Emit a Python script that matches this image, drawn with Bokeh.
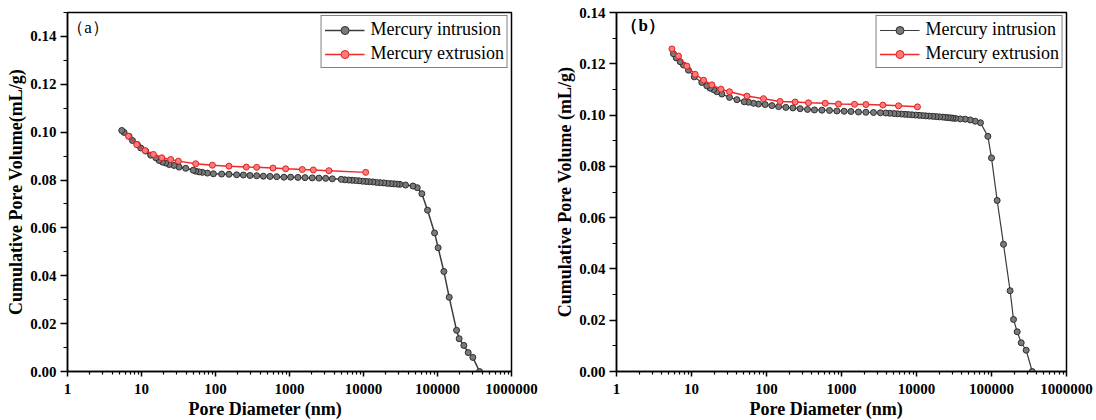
from bokeh.plotting import figure
from bokeh.layouts import row
from bokeh.models import Range1d, FixedTicker, NumeralTickFormatter, Label, Title
from bokeh.embed import file_html
from bokeh.resources import INLINE

# ---------------- data ----------------
x_ticks = [1, 10, 100, 1000, 10000, 100000, 1000000]
y_ticks = [0.0, 0.02, 0.04, 0.06, 0.08, 0.10, 0.12, 0.14]

intr_a_d = [370000, 300000, 260000, 227000, 196000, 181000, 144000, 122000, 102000, 91300,
            73400, 61500, 53300, 46600, 37000,
            31000, 28500, 26000, 23500, 21000, 18800, 16800, 15000, 13400, 12000,
            10800, 9700, 8700, 7800, 7000, 6300, 5600, 5000,
            3790, 3080, 2500, 2030, 1620, 1300, 1035, 841, 671, 545, 443, 360, 292, 238, 193,
            152, 121, 93.7, 77.7, 66.5, 60, 54, 50, 39.6, 32.2, 27.5, 23.6, 21.2, 19.2, 17.3,
            15.6, 13.3, 11.4, 9.77, 8.8, 7.55, 6.8, 5.82, 5.41]
intr_a_v = [0.0000, 0.0059, 0.0079, 0.0109, 0.0137, 0.0172, 0.0310, 0.0418, 0.0517, 0.0579,
            0.0674, 0.0743, 0.0768, 0.0775, 0.0779,
            0.0782, 0.0783, 0.0784, 0.0785, 0.0786, 0.0788, 0.0789, 0.0790, 0.0792, 0.0793,
            0.0794, 0.0795, 0.0797, 0.0798, 0.0799, 0.0800, 0.0801, 0.0803,
            0.0805, 0.0807, 0.0808, 0.0809, 0.0810, 0.0811, 0.0812, 0.0812, 0.0814, 0.0815,
            0.0816, 0.0818, 0.0819, 0.0821, 0.0822,
            0.0824, 0.0825, 0.0826, 0.0829, 0.0832, 0.0834, 0.0837, 0.0841, 0.0849, 0.0854,
            0.0861, 0.0865, 0.0871, 0.0875, 0.0882,
            0.0893, 0.0904, 0.0921, 0.0934, 0.0948, 0.0965, 0.0983, 0.0999, 0.1007]

extr_a_d = [10700, 3410, 2100, 1490, 887, 598, 360, 261, 152, 90.8, 54, 31.5, 24.8, 18.8,
            14.5, 11.2, 8.63, 6.67]
extr_a_v = [0.0832, 0.0839, 0.0842, 0.0844, 0.0847, 0.0850, 0.0853, 0.0854, 0.0858, 0.0862,
            0.0868, 0.0879, 0.0886, 0.0893, 0.0907, 0.0923, 0.0948, 0.0983]

intr_b_d = [349000, 290000, 249000, 220000, 196500, 177000, 144600, 119000, 100000, 89500,
            71300, 60600, 52000, 44600, 38300,
            33000, 30500, 28500, 26500, 24500,
            22500, 20300, 18300, 16500, 14800, 13300, 12000, 10800, 9700, 8700, 7800, 7000,
            6300, 5600, 5000, 4400, 3900, 3300,
            2670, 2113, 1685, 1334, 1086, 868, 692, 548, 436, 352, 281, 225, 181, 145, 118,
            96, 78.2, 67.1, 57.5, 50.4, 40.3, 32.1, 25.4, 21.8, 19.7, 17.7, 16, 13.7, 10.9,
            9.12, 7.82, 7.07, 6.25, 5.75]
intr_b_v = [0.0000, 0.0083, 0.0112, 0.0155, 0.0203, 0.0315, 0.0496, 0.0667, 0.0833, 0.0917,
            0.0970, 0.0976, 0.0981, 0.0984, 0.0985,
            0.0987, 0.0988, 0.0989, 0.0990, 0.0991,
            0.0992, 0.0993, 0.0994, 0.0995, 0.0996, 0.0997, 0.0998, 0.0999, 0.1000, 0.1001,
            0.1002, 0.1003, 0.1004, 0.1005, 0.1006, 0.1007, 0.1008, 0.1009,
            0.1010, 0.1011, 0.1012, 0.1014, 0.1015, 0.1016, 0.1018, 0.1019, 0.1020, 0.1022,
            0.1025, 0.1028, 0.1030, 0.1033, 0.1037,
            0.1041, 0.1043, 0.1046, 0.1050, 0.1052, 0.1060, 0.1069, 0.1082, 0.1091, 0.1099,
            0.1105, 0.1114, 0.1127, 0.1149,
            0.1175, 0.1195, 0.1208, 0.1223, 0.1239]

extr_b_d = [10300, 5760, 3560, 2113, 1490, 912, 607, 363, 241, 152, 91.2, 54.8, 32.1, 24.7,
            18.7, 14.5, 11.2, 8.68, 6.71, 5.48]
extr_b_v = [0.1032, 0.1036, 0.1039, 0.1041, 0.1042, 0.1043, 0.1046, 0.1048, 0.1051, 0.1053,
            0.1064, 0.1074, 0.1091, 0.1101, 0.1118, 0.1136, 0.1159, 0.1191, 0.1230, 0.1258]

SERIF = "'Liberation Serif', 'Times New Roman', serif"


def panel(width, height, ymax, borders, ylabel, xlabel_offset, intr_d, intr_v, extr_d, extr_v,
          tag, tag_x, tag_y, tag_bold, intr_lw):
    bl, br, bt, bb = borders
    p = figure(width=width, height=height, x_axis_type="log",
               x_range=Range1d(1, 1e6), y_range=Range1d(0, ymax),
               output_backend="svg", toolbar_location=None,
               min_border_left=bl, min_border_right=br,
               min_border_top=bt, min_border_bottom=bb)
    p.background_fill_color = "white"
    p.border_fill_color = "white"
    p.outline_line_color = "black"
    p.outline_line_width = 1.5
    p.xgrid.visible = False
    p.ygrid.visible = False

    minor_x = [m * 10 ** e for e in range(0, 6) for m in range(2, 10)]
    p.xaxis.ticker = FixedTicker(ticks=x_ticks, minor_ticks=minor_x)
    p.xaxis.formatter = NumeralTickFormatter(format="0")
    minor_y = [round(0.01 + 0.02 * i, 2) for i in range(8)]
    p.yaxis.ticker = FixedTicker(ticks=y_ticks, minor_ticks=minor_y)
    p.yaxis.formatter = NumeralTickFormatter(format="0.00")

    for ax in (p.xaxis, p.yaxis):
        ax.axis_line_width = 1.5
        ax.axis_line_color = "black"
        ax.major_tick_line_width = 1.5
        ax.minor_tick_line_width = 1.2
        ax.major_tick_in = 0
        ax.minor_tick_in = 0
        ax.major_label_text_font = SERIF
        ax.major_label_text_font_style = "bold"
        ax.major_label_text_font_size = "15px"
        ax.major_label_text_color = "black"
        ax.axis_label_text_font = SERIF
        ax.axis_label_text_font_style = "bold"
        ax.axis_label_text_font_size = "18px"
        ax.axis_label_text_color = "black"
    p.xaxis.major_tick_out = 5
    p.xaxis.minor_tick_out = 3
    p.yaxis.major_tick_out = 7
    p.yaxis.minor_tick_out = 4
    p.xaxis.major_label_standoff = 7
    p.yaxis.major_label_standoff = 4
    p.yaxis.axis_label_standoff = 1
    p.yaxis.axis_label = ylabel

    # x-axis title, a little left of centre as in the original figure
    xt = Title(text="Pore Diameter (nm)", align="left", offset=xlabel_offset,
               text_font=SERIF, text_font_size="18px", text_font_style="bold",
               text_color="black", standoff=0)
    p.add_layout(xt, "below")

    p.line(intr_d, intr_v, line_color="#3c3c3c", line_width=intr_lw,
           legend_label="Mercury intrusion")
    p.scatter(intr_d, intr_v, size=6, marker="circle", fill_color="#7a7a7a",
              line_color="#2e2e2e", line_width=1, legend_label="Mercury intrusion")
    p.line(extr_d, extr_v, line_color="#f02828", line_width=1.5,
           legend_label="Mercury extrusion")
    p.scatter(extr_d, extr_v, size=6, marker="circle", fill_color="#ff7b7b",
              line_color="#e02020", line_width=1, legend_label="Mercury extrusion")

    lg = p.legend[0]
    lg.location = "top_right"
    lg.margin = 3
    lg.padding = 3
    lg.spacing = 3
    lg.glyph_width = 40
    lg.glyph_height = 20
    lg.label_height = 20
    lg.label_standoff = 6
    lg.label_text_font = SERIF
    lg.label_text_font_size = "18px"
    lg.label_text_color = "black"
    lg.border_line_color = "black"
    lg.border_line_width = 1.2
    lg.background_fill_alpha = 1.0

    p.add_layout(Label(x=tag_x, y=tag_y, text=tag, text_align="center",
                       text_baseline="middle", text_font=SERIF,
                       text_font_size="17px",
                       text_font_style="bold" if tag_bold else "normal",
                       text_color="black"))
    return p


pa = panel(548, 420, 0.15, (67, 37, 12, 49), "Cumulative Pore Volume(mL/g)", 121,
           intr_a_d, intr_a_v, extr_a_d, extr_a_v, "（a）", 1.9, 0.1436, False, 1.5)
pb = panel(548, 420, 0.14, (68, 30, 11, 47), "Cumulative Pore Volume (mL/g)", 133,
           intr_b_d, intr_b_v, extr_b_d, extr_b_v, "（b）", 2.27, 0.1349, True, 1.2)

layout = row(pa, pb)
open("out.html", "w").write(file_html(layout, INLINE))
